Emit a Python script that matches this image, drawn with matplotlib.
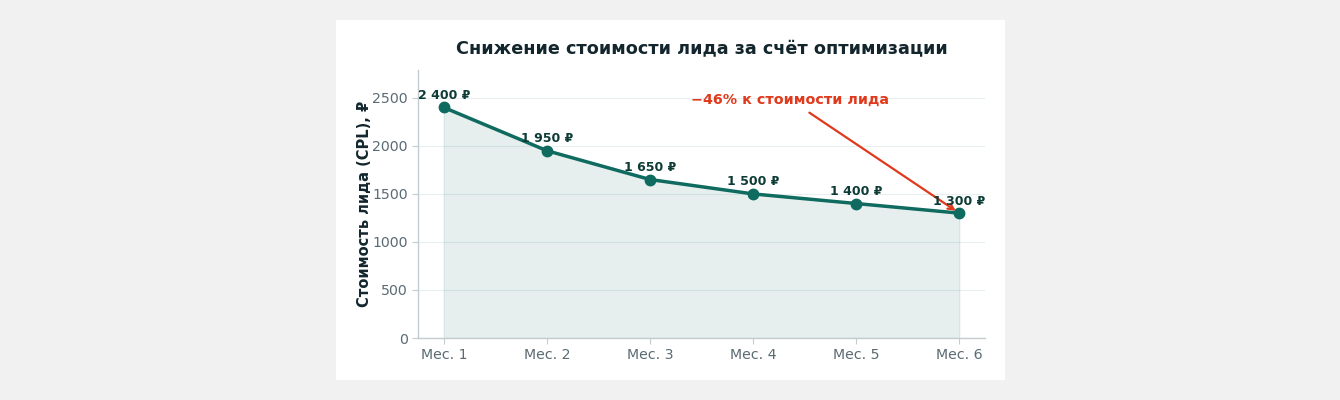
import matplotlib
matplotlib.use("Agg")
import matplotlib.pyplot as plt
from matplotlib.patches import Rectangle

months = ["Мес. 1", "Мес. 2", "Мес. 3", "Мес. 4", "Мес. 5", "Мес. 6"]
cpl = [2400, 1950, 1650, 1500, 1400, 1300]
value_labels = ["2 400 ₽", "1 950 ₽", "1 650 ₽", "1 500 ₽", "1 400 ₽", "1 300 ₽"]
title = "Снижение стоимости лида за счёт оптимизации"
ylabel = "Стоимость лида (CPL), ₽"
note = "−46% к стоимости лида"

plt.rcParams['font.family'] = ['DejaVu Sans']

W, H = 1340, 400
fig = plt.figure(figsize=(W / 100, H / 100), dpi=100, facecolor="#f1f1f1")
fig.patches.append(Rectangle((336 / W, 1 - 380 / H), (1005 - 336) / W, 360 / H,
                             transform=fig.transFigure, facecolor="white",
                             edgecolor="none", zorder=-10))

ax = fig.add_axes([418 / W, 1 - 338 / H, (985 - 418) / W, (338 - 70) / H])
ax.set_facecolor("white")

line_c = "#0f6b5f"
x = list(range(len(months)))
ax.fill_between(x, cpl, 0, color=line_c, alpha=0.10, linewidth=1)
ax.plot(x, cpl, color=line_c, linewidth=2.5, marker="o", markersize=7.5, zorder=3)

for xi, v, lab in zip(x, cpl, value_labels):
    ax.annotate(lab, (xi, v), xytext=(0, 4), textcoords="offset points",
                ha="center", va="bottom", fontsize=9, fontweight="bold",
                color="#0d3b36", zorder=4)

ax.annotate(note, xy=(5, 1300), xytext=(3.36, 2480), ha="center", va="center",
            fontsize=10.3, fontweight="bold", color="#e0391c",
            arrowprops=dict(arrowstyle="->", color="#e0391c", lw=1.6,
                            shrinkA=4, shrinkB=3))

ax.set_xlim(-0.25, 5.25)
ax.set_ylim(0, 2790)
ax.set_xticks(x)
ax.set_xticklabels(months)
ax.set_yticks([0, 500, 1000, 1500, 2000, 2500])
ax.tick_params(colors="#5b6b73", labelsize=10.2, length=4)
ax.tick_params(axis="both", color="#c3cdd0")
ax.grid(axis="y", color="#e9efef", linewidth=0.8)
ax.set_axisbelow(True)
for s in ["top", "right"]:
    ax.spines[s].set_visible(False)
for s in ["left", "bottom"]:
    ax.spines[s].set_color("#c3cdd0")
    ax.spines[s].set_linewidth(1)

ax.set_title(title, fontsize=12.7, fontweight="bold", color="#13262e", pad=11.5)
ax.set_ylabel(ylabel, fontsize=10.5, fontweight="bold", color="#13262e", labelpad=0)

fig.savefig("out.png", dpi=100, facecolor=fig.get_facecolor())
